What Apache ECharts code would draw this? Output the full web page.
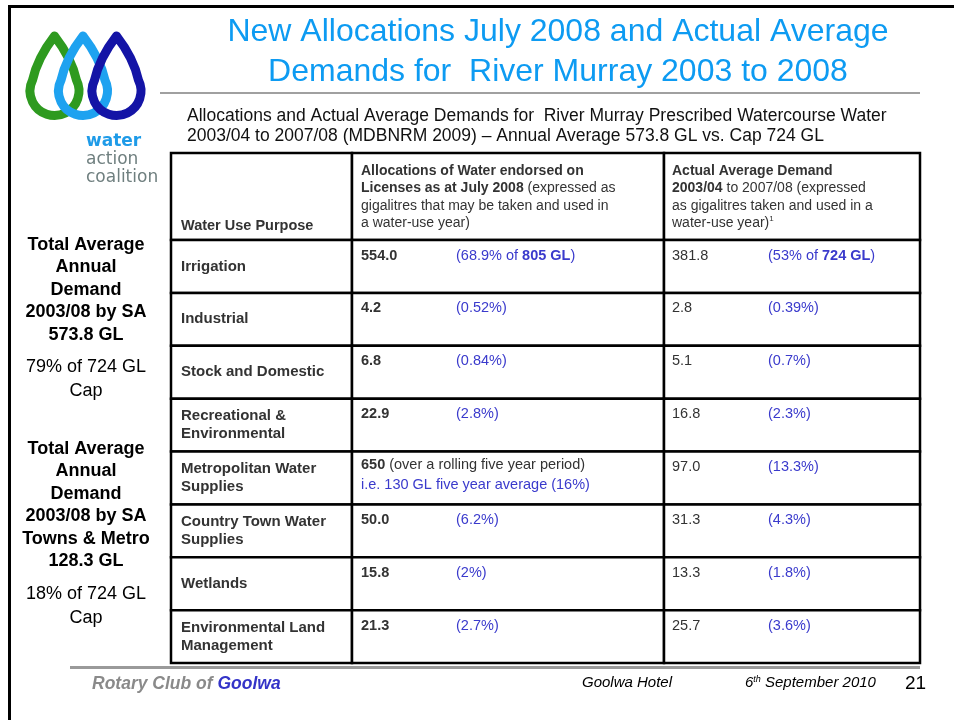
<!DOCTYPE html>
<html>
<head>
<meta charset="utf-8">
<script src="https://cdn.jsdelivr.net/npm/echarts@6/dist/echarts.min.js"></script>
<style>
html,body{margin:0;padding:0;background:#fff;}
#chart{width:954px;height:720px;}
</style>
</head>
<body>
<div id="chart"></div>
<script>
// ---- data ----
const purposes = ['Irrigation', 'Industrial', 'Stock and Domestic', 'Recreational &\nEnvironmental',
  'Metropolitan Water\nSupplies', 'Country Town Water\nSupplies', 'Wetlands', 'Environmental Land\nManagement'];
const allocations = [554.0, 4.2, 6.8, 22.9, 650, 50.0, 15.8, 21.3];
const allocationShares = ['68.9%', '0.52%', '0.84%', '2.8%', '16%', '6.2%', '2%', '2.7%'];
const demands = [381.8, 2.8, 5.1, 16.8, 97.0, 31.3, 13.3, 25.7];
const demandShares = ['53%', '0.39%', '0.7%', '2.3%', '13.3%', '4.3%', '1.8%', '3.6%'];
const allocationCap = '805 GL';
const demandCap = '724 GL';
const metroNote = ' (over a rolling five year period)';
const metroAverage = 'i.e. 130 GL five year average';

const titleText = 'New Allocations July 2008 and Actual Average\nDemands for  River Murray 2003 to 2008';
const subtitleLines = ['Allocations and Actual Average Demands for  River Murray Prescribed Watercourse Water',
  '2003/04 to 2007/08 (MDBNRM 2009) \u2013 Annual Average 573.8 GL vs. Cap 724 GL'];
const noteSA = ['Total Average', 'Annual', 'Demand', '2003/08 by SA', '573.8 GL'];
const noteSACap = ['79% of 724 GL', 'Cap'];
const noteTowns = ['Total Average', 'Annual', 'Demand', '2003/08 by SA', 'Towns & Metro', '128.3 GL'];
const noteTownsCap = ['18% of 724 GL', 'Cap'];

// ---- style constants ----
const FONT = '"Liberation Sans", Arial, sans-serif';
const DARK = '#333333';
const BLUE = '#3a3acc';
const COL_SPLIT = [181 / 749, 493 / 749];
const BODY = 14.5;
const BORDER = 2.5;

function fmt(v, i) { return i === 4 ? String(v) : v.toFixed(1); }

function renderRow(params, api) {
  const i = api.value(0);
  const mid = api.coord([0, i]);
  const h = api.size([0, 1])[1];
  const x0 = mid[0];
  const x3 = api.coord([1, i])[0];
  const W = x3 - x0;
  const x1 = x0 + W * COL_SPLIT[0];
  const x2 = x0 + W * COL_SPLIT[1];
  const top = mid[1] - h / 2;
  const ty = top + 15.5;
  const base = { fontFamily: FONT, fontSize: BODY, fill: DARK, verticalAlign: 'middle', align: 'left' };
  const boldRich = (col) => ({ b: { fontWeight: 'bold', fontFamily: FONT, fontSize: BODY, fill: col } });
  const ch = [];
  const cell = (a, b) => ({ type: 'rect', shape: { x: a, y: top, width: b - a, height: h },
    style: { fill: '#fff', stroke: '#000', lineWidth: BORDER } });
  ch.push(cell(x0, x1), cell(x1, x2), cell(x2, x3));
  ch.push({ type: 'text', style: Object.assign({}, base, { x: x0 + 10, y: mid[1], text: purposes[i],
    fontWeight: 'bold', fontSize: 15, lineHeight: 18 }) });
  if (i === 4) {
    ch.push({ type: 'text', style: Object.assign({}, base, { x: x1 + 9, y: ty - 2,
      text: '{b|' + fmt(allocations[i], i) + '}' + metroNote, rich: boldRich(DARK) }) });
    ch.push({ type: 'text', style: Object.assign({}, base, { x: x1 + 9, y: ty + 18,
      text: metroAverage + ' (' + allocationShares[i] + ')', fill: BLUE }) });
  } else {
    ch.push({ type: 'text', style: Object.assign({}, base, { x: x1 + 9, y: ty,
      text: fmt(allocations[i], i), fontWeight: 'bold' }) });
    ch.push({ type: 'text', style: Object.assign({}, base, { x: x1 + 104, y: ty, fill: BLUE,
      text: i === 0 ? '(' + allocationShares[i] + ' of {b|' + allocationCap + '})' : '(' + allocationShares[i] + ')',
      rich: boldRich(BLUE) }) });
  }
  ch.push({ type: 'text', style: Object.assign({}, base, { x: x2 + 8, y: ty, text: demands[i].toFixed(1) }) });
  ch.push({ type: 'text', style: Object.assign({}, base, { x: x2 + 104, y: ty, fill: BLUE,
    text: i === 0 ? '(' + demandShares[i] + ' of {b|' + demandCap + '})' : '(' + demandShares[i] + ')',
    rich: boldRich(BLUE) }) });
  return { type: 'group', children: ch };
}

function dropPath(cx, cy, r, tipY) {
  const d = cy - tipY;
  const a = Math.acos(r / d);
  const tx = r * Math.sin(a);
  const tyy = cy - r * Math.cos(a);
  const c1y = tipY + (tyy - tipY) * 0.5;
  return 'M' + cx + ' ' + tipY +
    ' Q' + (cx + tx * 0.78) + ' ' + c1y + ' ' + (cx + tx) + ' ' + tyy +
    ' A' + r + ' ' + r + ' 0 1 1 ' + (cx - tx) + ' ' + tyy +
    ' Q' + (cx - tx * 0.78) + ' ' + c1y + ' ' + cx + ' ' + tipY + ' Z';
}

function renderLogo() {
  const drops = [[54.5, '#2e9a1f'], [83, '#1ea2f0'], [116.5, '#1414a6']];
  return { type: 'group', children: drops.map(([cx, col]) => ({ type: 'path',
    shape: { pathData: dropPath(cx, 91, 24.5, 36) },
    style: { fill: 'none', stroke: col, lineWidth: 9, lineJoin: 'round' } })) };
}

function centeredLines(lines, cx, y0, lh, bold) {
  return lines.map((t, k) => ({ type: 'text', style: {
    x: cx, y: y0 + k * lh, text: t, align: 'center', verticalAlign: 'middle',
    font: (bold ? 'bold ' : '') + '18px ' + FONT, fill: '#000' } }));
}

const graphics = [];
// slide frame
graphics.push({ type: 'rect', shape: { x: 8, y: 5, width: 946, height: 3 }, style: { fill: '#000' } });
graphics.push({ type: 'rect', shape: { x: 8, y: 5, width: 3, height: 715 }, style: { fill: '#000' } });
// rules
graphics.push({ type: 'rect', shape: { x: 160, y: 92, width: 760, height: 2 }, style: { fill: '#a0a0a0' } });
graphics.push({ type: 'rect', shape: { x: 70, y: 666, width: 850, height: 3 }, style: { fill: '#9a9a9a' } });
// logo words
graphics.push({ type: 'text', style: { x: 86, y: 142, text: 'water', verticalAlign: 'middle',
  font: 'bold 17px "DejaVu Sans", sans-serif', fill: '#1e9be8' } });
graphics.push({ type: 'text', style: { x: 86, y: 160, text: 'action', verticalAlign: 'middle',
  font: '17px "DejaVu Sans", sans-serif', fill: '#6f7f7f' } });
graphics.push({ type: 'text', style: { x: 86, y: 178, text: 'coalition', verticalAlign: 'middle',
  font: '17px "DejaVu Sans", sans-serif', fill: '#6f7f7f' } });
// subtitle
subtitleLines.forEach((t, k) => graphics.push({ type: 'text', style: { x: 187, y: 116 + k * 20, text: t,
  verticalAlign: 'middle', font: '17.5px ' + FONT, fill: '#111' } }));
// left notes
graphics.push(...centeredLines(noteSA, 86, 245, 22.5, true));
graphics.push(...centeredLines(noteSACap, 86, 367, 24, false));
graphics.push(...centeredLines(noteTowns, 86, 449, 22.4, true));
graphics.push(...centeredLines(noteTownsCap, 86, 594, 24, false));
// header row
[[171, 352], [352, 664], [664, 920]].forEach(([a, b]) => graphics.push({ type: 'rect',
  shape: { x: a, y: 153, width: b - a, height: 87 }, style: { fill: '#fff', stroke: '#000', lineWidth: BORDER } }));
const hdrRich = { b: { fontWeight: 'bold', fontFamily: FONT, fontSize: 14, fill: DARK, lineHeight: 17.5 },
  sup: { fontFamily: FONT, fontSize: 8, fill: DARK, verticalAlign: 'top', lineHeight: 17.5, padding: [0, 0, 6, 0] } };
graphics.push({ type: 'text', style: { x: 181, y: 226, text: 'Water Use Purpose', verticalAlign: 'middle',
  font: 'bold 14.5px ' + FONT, fill: DARK } });
graphics.push({ type: 'text', style: { x: 361, y: 162, verticalAlign: 'top', fontFamily: FONT, fontSize: 14,
  fill: DARK, lineHeight: 17.5, rich: hdrRich,
  text: '{b|Allocations of Water endorsed on}\n{b|Licenses as at July 2008} (expressed as\ngigalitres that may be taken and used in\na water-use year)' } });
graphics.push({ type: 'text', style: { x: 672, y: 162, verticalAlign: 'top', fontFamily: FONT, fontSize: 14,
  fill: DARK, lineHeight: 17.5, rich: hdrRich,
  text: '{b|Actual Average Demand}\n{b|2003/04} to 2007/08 (expressed\nas gigalitres taken and used in a\nwater-use year){sup|1}' } });
// footer
graphics.push({ type: 'text', style: { x: 92, y: 684, verticalAlign: 'middle',
  text: 'Rotary Club of {g|Goolwa}', font: 'italic bold 17.5px ' + FONT, fill: '#8a8a8a',
  rich: { g: { fontStyle: 'italic', fontWeight: 'bold', fontFamily: FONT, fontSize: 17.5, fill: '#3434c8' } } } });
graphics.push({ type: 'text', style: { x: 582, y: 683, verticalAlign: 'middle', text: 'Goolwa Hotel',
  font: 'italic 15px ' + FONT, fill: '#000' } });
graphics.push({ type: 'text', style: { x: 745, y: 683, verticalAlign: 'middle',
  text: '6{s|th} September 2010', font: 'italic 15px ' + FONT, fill: '#000',
  rich: { s: { fontStyle: 'italic', fontFamily: FONT, fontSize: 9, fill: '#000', padding: [0, 0, 7, 0] } } } });
graphics.push({ type: 'text', style: { x: 905, y: 684, verticalAlign: 'middle', text: '21',
  font: '19px ' + FONT, fill: '#000' } });

const chart = echarts.init(document.getElementById('chart'), null, { renderer: 'canvas' });
chart.setOption({
  backgroundColor: '#fff',
  animation: false,
  title: { text: titleText, left: 553, top: 7, textAlign: 'center',
    textStyle: { fontFamily: FONT, fontSize: 32, fontWeight: 'normal', color: '#0d9bf2', lineHeight: 40 } },
  grid: { left: 171, right: 34, top: 240, bottom: 57 },
  xAxis: { type: 'value', min: 0, max: 1, show: false },
  yAxis: { type: 'category', data: purposes, inverse: true, show: false },
  series: [{
    type: 'custom',
    renderItem: renderRow,
    encode: { y: 0 },
    data: purposes.map((p, i) => [i]),
    silent: true
  }, {
    type: 'custom',
    coordinateSystem: 'none',
    renderItem: renderLogo,
    data: [[0]],
    silent: true
  }],
  graphic: { elements: graphics }
});
</script>
</body>
</html>
